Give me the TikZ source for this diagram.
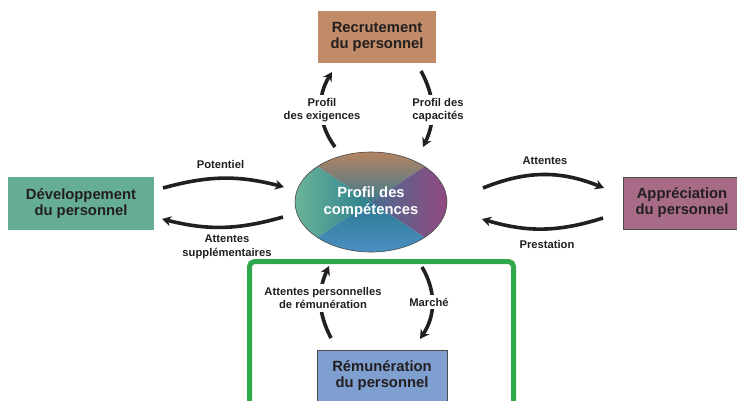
\documentclass[tikz,border=0pt]{standalone}
\usepackage{fontspec}
\setmainfont{Liberation Sans}
\usetikzlibrary{arrows.meta,shapes.geometric}
\definecolor{txt}{HTML}{231F20}
\definecolor{cbrown}{HTML}{C08B66}
\definecolor{cteal}{HTML}{66AD98}
\definecolor{cmauve}{HTML}{A86B87}
\definecolor{cblue}{HTML}{7E9FCF}
\definecolor{cgreen}{HTML}{2EA84B}
\definecolor{cborder}{HTML}{4A4A4A}
\begin{document}
\begin{tikzpicture}[x=1pt,y=-1pt,
  box/.style={minimum width=#1, minimum height=52pt, inner sep=0pt, align=center,
     font=\fontsize{14.8}{16}\selectfont\bfseries, text=txt},
  lbl/.style={align=center, fill=white, inner xsep=1pt, inner ysep=3pt, font=\fontsize{11.2}{13.5}\selectfont\bfseries, text=txt},
  arr/.style={line width=3.6pt, draw=txt, -{Stealth[length=9pt,width=10pt]}}]
\useasboundingbox (0,0) rectangle (737,400);
\clip (0,0) rectangle (737,400);

% boxes
\node[box=118pt, fill=cbrown] (rec) at (377,37) {Recrutement\\du personnel};
\node[box=146pt, fill=cteal, minimum height=53pt] (dev) at (81,203.5) {Développement\\du personnel};
\node[box=118pt, fill=cmauve, draw=cborder, line width=0.6pt] (app) at (682,203) {Appréciation\\du personnel};
\node[box=130pt, fill=cblue, draw=cborder, line width=0.6pt] (rem) at (382,376) {Rémunération\\du personnel};

% ellipse with shaded sectors
\begin{scope}
\clip (371,202) ellipse [x radius=76, y radius=50];
\shade[top color=cbrown!95!black, bottom color={rgb,255:red,62;green,122;blue,140}] (294,151) -- (448,151) -- (371,202) -- cycle;
\shade[left color={rgb,255:red,108;green,181;blue,154}, right color={rgb,255:red,43;green,126;blue,142}] (294,151) -- (371,202) -- (294,253) -- cycle;
\shade[left color={rgb,255:red,74;green,106;blue,142}, right color={rgb,255:red,146;green,74;blue,128}] (448,151) -- (371,202) -- (448,253) -- cycle;
\shade[top color={rgb,255:red,44;green,122;blue,146}, bottom color={rgb,255:red,75;green,143;blue,196}] (294,253) -- (371,202) -- (448,253) -- cycle;
\end{scope}
\node[ellipse, draw=cborder, line width=0.6pt, minimum width=152pt, minimum height=100pt, inner sep=0pt,
      align=center, text=white, font=\fontsize{14.8}{16.5}\selectfont\bfseries] (ell) at (371,202) {Profil des\\compétences};

% arrow end coordinates
\coordinate (pa) at (163,188); \coordinate (pb) at (284,187);
\coordinate (sa) at (283,217); \coordinate (sb) at (162,219);
\coordinate (aa) at (483,188); \coordinate (ab) at (604,188);
\coordinate (ra) at (603,218); \coordinate (rb) at (482,219);
\coordinate (ea) at (335,147); \coordinate (eb) at (332,72);
\coordinate (ca) at (421,71);  \coordinate (cb) at (423,147);
\coordinate (ma) at (331,338); \coordinate (mb) at (329,266);
\coordinate (ka) at (422,267); \coordinate (kb) at (420,339);

\draw[arr] (pa) to[bend left=15] (pb);
\draw[arr] (sa) to[bend left=15] (sb);
\draw[arr] (aa) to[bend left=22] (ab);
\draw[arr] (ra) to[bend left=17] (rb);
\draw[arr] (ea) to[bend left=34] (eb);
\draw[arr] (ca) to[bend left=27] (cb);
\draw[arr] (ma) to[bend left=26] (mb);
\draw[arr] (ka) to[bend left=32] (kb);

% labels
\node[lbl] (lpot) at (220.5,164) {Potentiel};
\node[lbl] (lsup) at (227,247) {Attentes\\supplémentaires};
\node[lbl] (latt) at (545,161) {Attentes};
\node[lbl] (lpre) at (547,244) {Prestation};
\node[lbl] (lexi) at (322,110) {Profil\\des exigences};
\node[lbl] (lcap) at (438,110) {Profil des\\capacités};
\node[lbl] (lper) at (323,298) {Attentes personnelles\\de rémunération};
\node[lbl] (lmar) at (429,302) {Marché};

% green frame
\draw[cgreen, line width=5pt, rounded corners=5pt] (249.5,412) -- (249.5,261.5) -- (513.5,261.5) -- (513.5,412);
\end{tikzpicture}
\end{document}
